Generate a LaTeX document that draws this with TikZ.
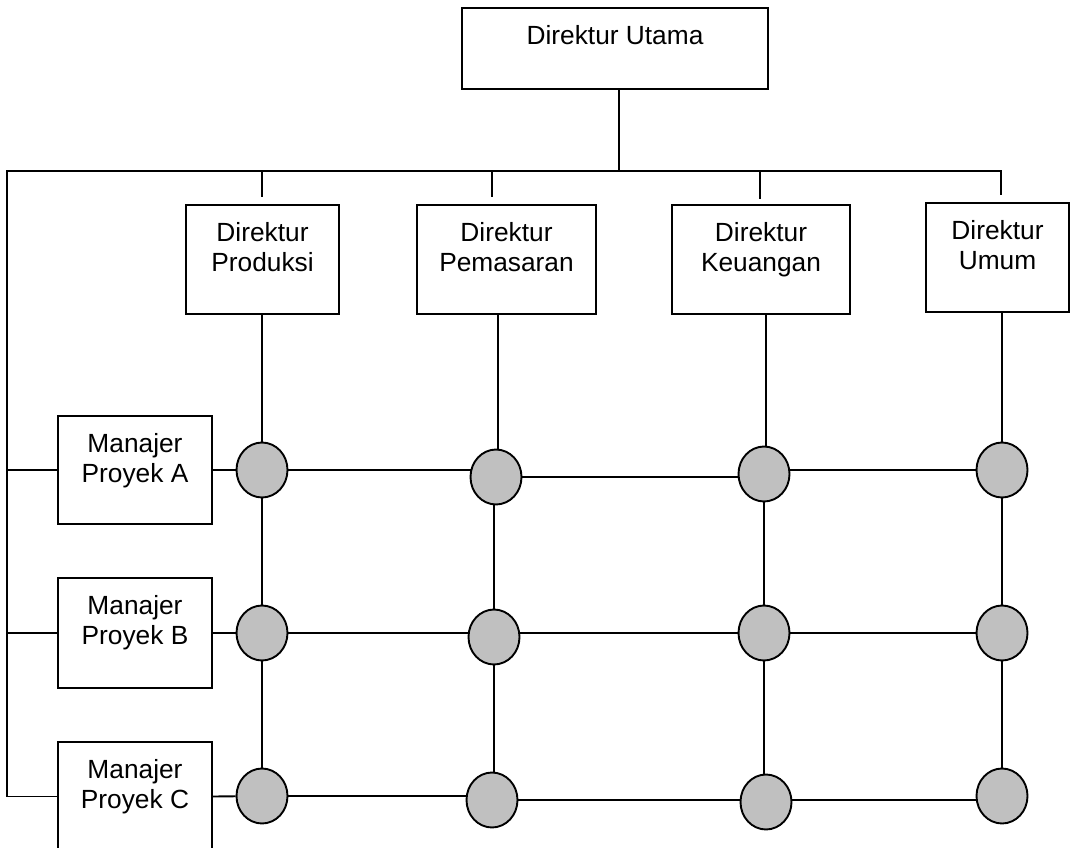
\documentclass[tikz,border=0pt]{standalone}
\usepackage{fontspec}
\setmainfont{Liberation Sans}
\usetikzlibrary{shapes.geometric,backgrounds}
\definecolor{hubgray}{HTML}{C0C0C0}
\begin{document}
\begin{tikzpicture}[x=1pt,y=-1pt,
  line width=1.9pt,
  box/.style={draw, rectangle, inner sep=0pt},
  lbl/.style={inner sep=0pt, align=center, anchor=north,
              font=\fontsize{26.3}{30}\selectfont},
  hub/.style={draw, ellipse, fill=hubgray, inner sep=0pt,
              minimum width=51pt, minimum height=55pt},
  wire/.style={line width=1.9pt}]
\clip (0,0) rectangle (1084,848);

% top of the hierarchy
\node[box, minimum width=306pt, minimum height=81pt] (U) at (615,48.5) {};
\node[lbl] (Ut) at ([yshift=-17pt]U.north) {Direktur Utama};

% functional directors
\node[box, minimum width=153pt, minimum height=109pt] (P)  at (262.5,259.5) {};
\node[box, minimum width=179pt, minimum height=109pt] (Pm) at (506.5,259.5) {};
\node[box, minimum width=178pt, minimum height=109pt] (K)  at (761,259.5) {};
\node[box, minimum width=143pt, minimum height=109pt] (Um) at (997.5,257.5) {};
\node[lbl] (Pt)  at ([yshift=-17pt]P.north)  {Direktur\\Produksi};
\node[lbl] (Pmt) at ([yshift=-17pt]Pm.north) {Direktur\\Pemasaran};
\node[lbl] (Kt)  at ([yshift=-17pt]K.north)  {Direktur\\Keuangan};
\node[lbl] (Umt) at ([yshift=-17pt]Um.north) {Direktur\\Umum};

% project managers
\node[box, minimum width=154pt, minimum height=108pt] (MA) at (135,470) {};
\node[box, minimum width=154pt, minimum height=110pt] (MB) at (135,633) {};
\node[box, minimum width=154pt, minimum height=109pt] (MC) at (135,796.5) {};
\node[lbl] (MAt) at ([yshift=-17pt]MA.north) {Manajer\\Proyek A};
\node[lbl] (MBt) at ([yshift=-17pt]MB.north) {Manajer\\Proyek B};
\node[lbl] (MCt) at ([yshift=-17pt]MC.north) {Manajer\\Proyek C};

% bus coordinates
\coordinate (busL) at (7,171);
\coordinate (busR) at (1001,171);

% matrix hubs
\node[hub] (A1) at (262,470) {};
\node[hub] (A2) at (496,477) {};
\node[hub] (A3) at (764,474) {};
\node[hub] (A4) at (1002,470) {};
\node[hub] (B1) at (262,633) {};
\node[hub] (B2) at (494,637) {};
\node[hub] (B3) at (764,633) {};
\node[hub] (B4) at (1002,633) {};
\node[hub] (C1) at (262,796) {};
\node[hub] (C2) at (492,800) {};
\node[hub] (C3) at (766,802) {};
\node[hub] (C4) at (1002,796) {};

% main bus and left spine (drops stop short of the boxes)
\draw[wire] ([xshift=4pt]U.south) -- ([xshift=4pt]U.south |- busL);
\draw[wire] (busL |- MC) -- (busL) -- (busR) -- ([yshift=7pt]Um.north -| busR);
\draw[wire] ([xshift=-0.5pt]P.north |- busL) -- ([xshift=-0.5pt,yshift=7pt]P.north);
\draw[wire] ([xshift=-14.5pt]Pm.north |- busL) -- ([xshift=-14.5pt,yshift=7pt]Pm.north);
\draw[wire] ([xshift=-1pt]K.north |- busL) -- ([xshift=-1pt,yshift=5pt]K.north);

% branches to managers
\draw[wire] (busL |- MA) -- (MA.west);
\draw[wire] (busL |- MB) -- (MB.west);
\draw[wire] (busL |- MC) -- (MC.west);
\draw[wire] (MA.east) -- (A1);
\draw[wire] (MB.east) -- (B1);
\draw[wire] (MC.east) -- (C1);

% director stems
\draw[wire] (A1 |- P.south) -- (A1);
\draw[wire] ([xshift=2pt]A2 |- Pm.south) -- ([xshift=2pt]A2.north);
\draw[wire] ([xshift=2pt]A3 |- K.south) -- ([xshift=2pt]A3.north);
\draw[wire] (A4 |- Um.south) -- (A4);

% grid lines, kept behind the hubs
\begin{scope}[on background layer]
  % rows
  \draw[wire] (A1) -- (A1 -| A2);
  \draw[wire] (A2) -- (A2 -| A3);
  \draw[wire] (A1 -| A3) -- (A4);
  \draw[wire] (B1) -- (B1 -| B2);
  \draw[wire] (B3 -| B2) -- (B3) -- (B4);
  \draw[wire] (C1) -- (C1 -| C2);
  \draw[wire] (C2) -- (C2 -| C3) -- (C2 -| C4);
  % columns
  \draw[wire] (A1) -- (C1);
  \draw[wire] (A2 -| B2) -- (B2) -- (B2 |- C2);
  \draw[wire] (A3) -- (B3 |- C3);
  \draw[wire] (A4) -- (C4);
\end{scope}
\end{tikzpicture}
\end{document}
